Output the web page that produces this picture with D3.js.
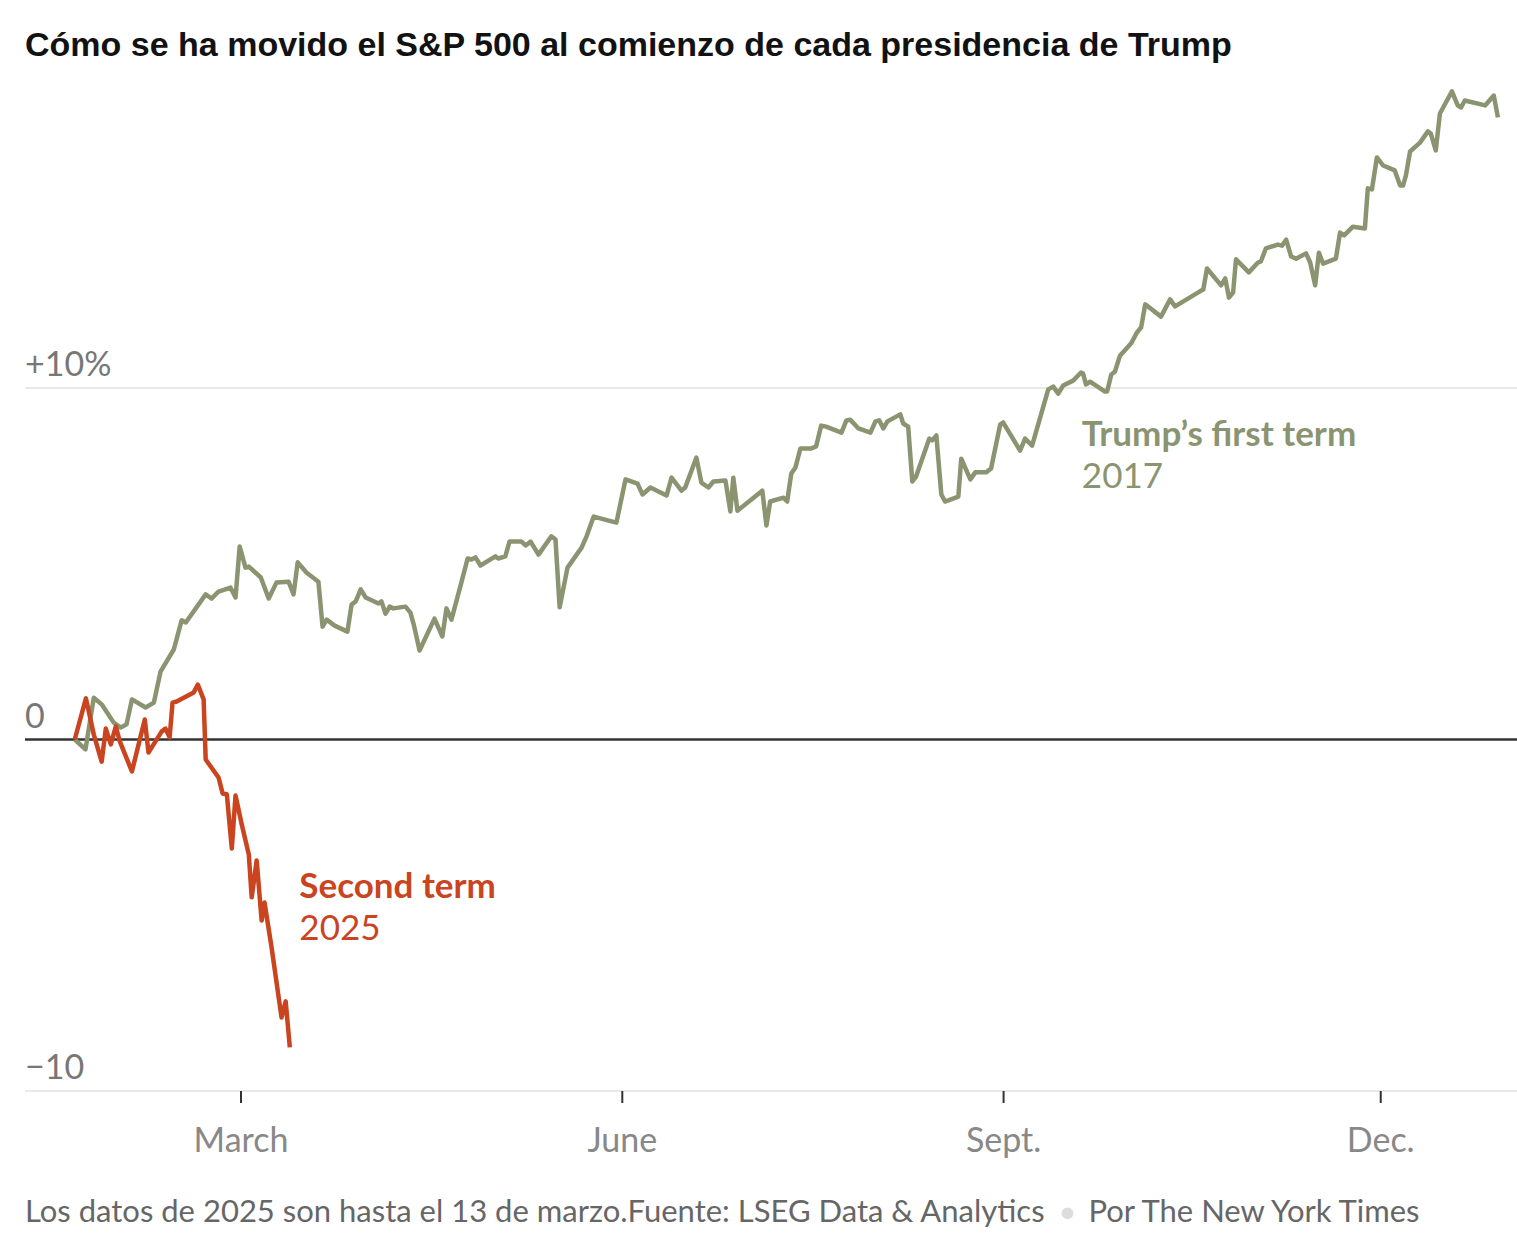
<!DOCTYPE html>
<html>
<head>
<meta charset="utf-8">
<script src="https://cdn.jsdelivr.net/npm/d3@7"></script>
<style>
  body { margin: 0; background: #fff; }
  svg text { font-family: Lato, "Open Sans", sans-serif; }
</style>
</head>
<body>
<div id="chart"></div>
<script>
// days since inauguration (Jan 20) and % change of the S&P 500
const firstTermDays = [0, 2.6, 4.6, 6.5, 9.4, 11.1, 12.5, 13.8, 17.1, 19.1, 20.7, 23.9, 25.8, 26.8, 31.6, 33.0, 34.7, 37.6, 38.8, 39.8,
  41.2, 42.0, 44.9, 46.8, 48.7, 51.6, 52.8, 53.8, 55.9, 58.8, 59.8, 60.8, 62.7, 65.8, 66.8, 67.8, 69.0, 70.2, 73.3, 74.0,
  75.0, 76.0, 76.9, 79.8, 81.0, 81.8, 83.2, 86.8, 88.7, 89.7, 90.9, 93.3, 94.8, 95.7, 96.7, 97.9, 101.5, 102.2, 103.9, 104.9,
  107.8, 108.8, 110.0, 111.9, 115.0, 116.0, 117.0, 118.9, 122.3, 123.5, 125.2, 130.7, 132.9, 135.8, 137.0, 138.9, 142.8, 144.0, 146.4, 147.3,
  150.0, 151.2, 152.9, 154.1, 157.0, 158.2, 158.9, 159.9, 165.9, 166.9, 167.8, 171.0, 171.9, 172.9, 173.9, 175.1, 177.7, 178.9, 180.1, 181.3,
  185.0, 186.2, 187.1, 189.1, 192.0, 193.2, 194.1, 195.1, 196.1, 199.2, 199.9, 201.1, 202.1, 203.0, 206.2, 206.9, 207.9, 209.1, 210.0, 213.2,
  213.9, 216.1, 217.3, 219.9, 221.1, 223.3, 224.0, 228.1, 229.3, 231.0, 234.9, 236.1, 237.3, 238.5, 240.9, 242.8, 243.3, 244.0, 245.0, 248.6,
  249.1, 250.1, 251.0, 252.2, 254.9, 256.3, 257.3, 258.3, 262.1, 264.3, 265.5, 271.5, 272.3, 273.2, 276.6, 277.6, 278.5, 279.5, 280.2, 283.3,
  285.5, 286.2, 287.4, 290.3, 291.3, 292.3, 293.5, 294.7, 297.1, 298.1, 299.3, 300.2, 301.2, 304.3, 305.3, 306.3, 308.4, 311.3, 312.0, 313.0,
  314.2, 315.7, 318.5, 319.8, 320.5, 321.2, 322.2, 324.6, 326.5, 327.2, 328.4, 329.4, 332.3, 333.7, 334.5, 335.4, 340.3, 342.4, 343.4];
const firstTermValues = [0, -0.28, 1.19, 1.00, 0.48, 0.34, 0.43, 1.14, 0.91, 1.05, 1.93, 2.56, 3.39, 3.33, 4.13, 4.01, 4.21, 4.32, 4.04, 5.49,
  4.89, 4.92, 4.61, 4.01, 4.47, 4.49, 4.13, 5.04, 4.75, 4.49, 3.21, 3.41, 3.24, 3.07, 3.84, 3.93, 4.27, 4.04, 3.87, 3.93,
  3.58, 3.78, 3.73, 3.78, 3.61, 3.27, 2.53, 3.44, 2.93, 3.73, 3.41, 4.47, 5.15, 5.12, 5.18, 4.95, 5.21, 5.15, 5.21, 5.63,
  5.63, 5.52, 5.63, 5.26, 5.78, 5.69, 3.76, 4.89, 5.46, 5.78, 6.34, 6.17, 7.40, 7.28, 6.97, 7.17, 6.94, 7.45, 7.08, 7.17,
  8.02, 7.31, 7.17, 7.34, 7.37, 6.49, 7.45, 6.51, 7.08, 6.09, 6.77, 6.88, 6.77, 7.57, 7.74, 8.28, 8.28, 8.34, 8.93, 8.90,
  8.73, 9.08, 9.10, 8.85, 8.73, 9.05, 9.08, 8.85, 9.05, 9.25, 8.99, 8.90, 7.34, 7.48, 8.56, 8.51, 8.65, 6.97, 6.77, 6.91,
  7.99, 7.40, 7.60, 7.60, 7.71, 8.96, 9.02, 8.22, 8.56, 8.36, 9.96, 10.04, 9.84, 10.07, 10.21, 10.44, 10.41, 10.10, 10.18, 9.90,
  9.90, 10.38, 10.47, 10.92, 11.27, 11.58, 11.72, 12.38, 12.03, 12.52, 12.32, 12.75, 12.80, 13.40, 12.92, 13.12, 12.57, 12.72, 13.66, 13.29,
  13.57, 13.60, 13.97, 14.08, 14.05, 14.22, 13.74, 13.68, 13.83, 13.57, 12.92, 13.85, 13.54, 13.68, 14.42, 14.34, 14.59, 14.54, 15.68, 15.65,
  16.56, 16.33, 16.19, 15.76, 15.76, 16.05, 16.73, 16.98, 17.30, 17.24, 16.76, 17.81, 18.44, 18.04, 17.98, 18.18, 18.04, 18.32, 17.70];

const secondTermDays = [0, 2.7, 4.6, 6.5, 7.5, 8.7, 9.9, 10.9, 13.8, 16.9, 17.8, 21.0, 21.9, 22.9, 23.6, 24.6, 28.7, 29.7, 31.1, 31.6,
  34.7, 35.7, 36.7, 37.9, 38.8, 40.3, 42.0, 42.7, 43.9, 45.1, 45.8, 47.5, 49.9, 50.9, 51.9];
const secondTermValues = [0, 1.17, 0.14, -0.63, 0.31, -0.14, 0.37, -0.06, -0.91, 0.57, -0.37, 0.23, 0.31, 0.06, 1.05, 1.08, 1.34, 1.56, 1.14, -0.57,
  -1.08, -1.54, -1.56, -3.10, -1.59, -2.42, -3.27, -4.49, -3.44, -5.15, -4.64, -5.92, -7.91, -7.45, -8.76];

const monthTicks = ["2017-03-01", "2017-06-01", "2017-09-01", "2017-12-01"];
const monthLabels = ["March", "June", "Sept.", "Dec."];
const yTicks = [10, 0, -10];
const yLabels = ["+10%", "0", "\u221210"];

const width = 1517, height = 1236;
const green = "#8b9471", red = "#c9441f";
const inauguration = new Date(2017, 0, 20);
const parseDay = d3.timeParse("%Y-%m-%d");

const svg = d3.select("#chart").append("svg")
  .attr("width", width)
  .attr("height", height);

const x = d3.scaleTime()
  .domain([new Date(2017, 0, 8), new Date(2018, 0, 3)])
  .range([25, 1517]);

const y = d3.scaleLinear()
  .domain([-10, 10])
  .range([1091, 388]);

function dayToDate(d) {
  return new Date(inauguration.getTime() + d * 864e5);
}

// title
svg.append("text")
  .attr("x", 25).attr("y", 56)
  .style("font-family", "'Liberation Sans', Arial, sans-serif")
  .style("font-size", "34px")
  .style("font-weight", 700)
  .attr("fill", "#121212")
  .text("Cómo se ha movido el S&P 500 al comienzo de cada presidencia de Trump");

// gridlines
svg.selectAll(".grid")
  .data(yTicks)
  .enter()
  .append("line")
  .attr("class", "grid")
  .attr("x1", 25).attr("x2", width)
  .attr("y1", d => y(d)).attr("y2", d => y(d))
  .attr("stroke", d => d === 0 ? "#333" : "#e2e2e2")
  .attr("stroke-width", d => d === 0 ? 2.5 : 1.5);

svg.selectAll(".ylabel")
  .data(yTicks)
  .enter()
  .append("text")
  .attr("class", "ylabel")
  .attr("x", 25)
  .attr("y", d => y(d) - 12)
  .attr("fill", "#777")
  .style("font-size", "34px")
  .text((d, i) => yLabels[i]);

// x axis
const xAxis = d3.axisBottom(x)
  .tickValues(monthTicks.map(parseDay))
  .tickFormat((d, i) => monthLabels[i])
  .tickSize(12)
  .tickPadding(25);

const gx = svg.append("g")
  .attr("transform", "translate(0," + y(-10) + ")")
  .call(xAxis);
gx.select(".domain").remove();
gx.selectAll(".tick line").attr("stroke", "#333").attr("stroke-width", 2);
gx.selectAll(".tick text")
  .attr("fill", "#888")
  .style("font-family", "Lato, sans-serif")
  .style("font-size", "34px");

// lines
const line = d3.line()
  .x(d => x(dayToDate(d[0])))
  .y(d => y(d[1]));

svg.append("path")
  .datum(d3.zip(firstTermDays, firstTermValues))
  .attr("d", line)
  .attr("fill", "none")
  .attr("stroke", green)
  .attr("stroke-width", 4.5)
  .attr("stroke-linejoin", "round");

svg.append("path")
  .datum(d3.zip(secondTermDays, secondTermValues))
  .attr("d", line)
  .attr("fill", "none")
  .attr("stroke", red)
  .attr("stroke-width", 4.5)
  .attr("stroke-linejoin", "round");

// annotations
const notes = [
  { name: "Trump\u2019s first term", year: "2017", day: 243, value: 8.35, color: green },
  { name: "Second term", year: "2025", day: 54.2, value: -4.5, color: red }
];

const note = svg.selectAll(".note")
  .data(notes)
  .enter()
  .append("g")
  .attr("class", "note");

note.append("text")
  .attr("x", d => x(dayToDate(d.day)))
  .attr("y", d => y(d.value))
  .attr("fill", d => d.color)
  .style("font-size", "35px")
  .style("font-weight", 700)
  .text(d => d.name);

note.append("text")
  .attr("x", d => x(dayToDate(d.day)))
  .attr("y", d => y(d.value) + 42)
  .attr("fill", d => d.color)
  .style("font-size", "35px")
  .text(d => d.year);

// footer
const footer = svg.append("text")
  .attr("x", 25).attr("y", 1222)
  .attr("fill", "#666")
  .style("font-size", "31px");
footer.append("tspan").text("Los datos de 2025 son hasta el 13 de marzo.Fuente: LSEG Data & Analytics ");
footer.append("tspan").attr("fill", "#ddd").attr("dx", 6).text("\u2022");
footer.append("tspan").attr("dx", 12).text("Por The New York Times");
</script>
</body>
</html>
